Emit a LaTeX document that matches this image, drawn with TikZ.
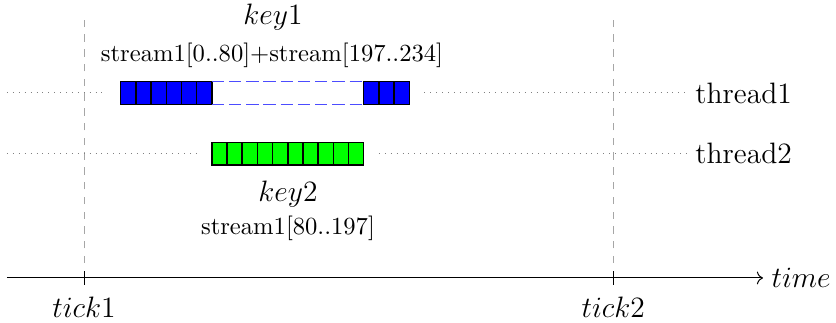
\documentclass[tikz,border=0pt]{standalone}
\usepackage{amsmath}
\usetikzlibrary{arrows.meta,calc,positioning}
\tikzset{
  cell/.style={draw=black, semithick, minimum width=0.217cm, minimum height=0.324cm, inner sep=0pt, outer sep=0pt},
  lane/.style={dotted, gray},
  gapline/.style={blue!70, dash pattern=on 5pt off 2pt},
  tickline/.style={dashed, gray!70}
}

\begin{document}
\begin{tikzpicture}[scale=1]
          % Fix the margins
          \useasboundingbox (-1.2,-0.643) rectangle (10.743,3.971);
          % Define coordinates
          \coordinate (T1) at (0,0);
          \coordinate (T2) at (7.56,0);
          \coordinate (T1top) at (0,3.79);
          \coordinate (T2top) at (7.56,3.79);
          \coordinate (axisL) at (-1.1,0);
          \coordinate (axisR) at (9.7,0);
          \coordinate (L1) at (-1.1,2.643);
          \coordinate (R1) at (8.61,2.643);
          \coordinate (L2) at (-1.1,1.776);
          \coordinate (R2) at (8.61,1.776);
          % Tick lines
          \draw[tickline] (T1) -- (T1top);
          \draw[tickline] (T2) -- (T2top);
          % Time axis
          \draw[->] (axisL) -- (axisR) node[right] {\large $time$};
          \draw ($(T1)+(0,-0.1)$) -- ($(T1)+(0,0.1)$);
          \draw ($(T2)+(0,-0.1)$) -- ($(T2)+(0,0.1)$);
          \node[anchor=base] (tick1) at (0,-0.571) {\large $tick1$};
          \node[anchor=base] (tick2) at (7.56,-0.571) {\large $tick2$};
          % Thread 1 cells
          \foreach \i in {1,...,6}
            \node[cell, fill=blue] (a\i) at ({0.524+(\i-0.5)*0.217},2.643) {};
          \foreach \i in {1,...,3}
            \node[cell, fill=blue] (c\i) at ({0.524+(\i+15.5)*0.217},2.643) {};
          % Thread 2 cells
          \foreach \i in {1,...,10}
            \node[cell, fill=green] (b\i) at ({0.524+(\i+5.5)*0.217},1.776) {};
          % Gap of key1
          \draw[gapline] (a6.north east) -- (c1.north west);
          \draw[gapline] (a6.south east) -- (c1.south west);
          % Thread lanes
          \draw[lane] (L1) -- ([xshift=-0.217cm]a1.west);
          \draw[lane] ([xshift=0.217cm]c3.east) -- (R1) node[right, black] {\large thread1};
          \draw[lane] (L2) -- ([xshift=-0.217cm]b1.west);
          \draw[lane] ([xshift=0.217cm]b10.east) -- (R2) node[right, black] {\large thread2};
          % Key labels
          \node[anchor=base] (key1) at (2.7,3.614) {\large $key1$};
          \node[anchor=base] (s1) at (2.686,3.086) {stream1[0..80]+stream[197..234]};
          \node[anchor=base] (key2) at (2.914,1.09) {\large $key2$};
          \node[anchor=base] (s2) at (2.914,0.614) {stream1[80..197]};
\end{tikzpicture}
\end{document}
